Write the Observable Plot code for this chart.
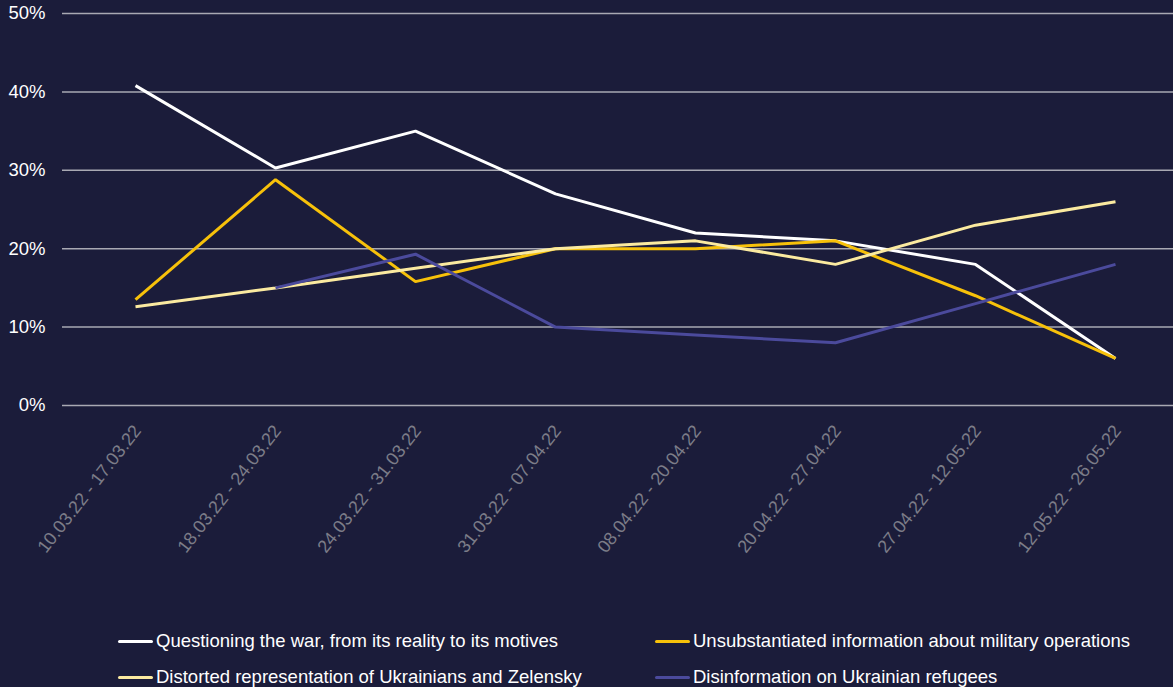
<!DOCTYPE html>
<html>
<head>
<meta charset="utf-8">
<script src="https://cdn.jsdelivr.net/npm/d3@7"></script>
<script src="https://cdn.jsdelivr.net/npm/@observablehq/plot@0.6"></script>
<style>
  html, body { margin: 0; padding: 0; background: #1b1c3a; }
  body { width: 1173px; height: 687px; overflow: hidden; font-family: "Liberation Sans", Arial, sans-serif; }
  #legend { position: relative; width: 1173px; height: 75px; }
  .item { position: absolute; display: flex; align-items: center; height: 22px; line-height: 22px; color: #ffffff; font-size: 18.5px; white-space: nowrap; }
  .sw { width: 35px; height: 3px; margin-right: 3px; border-radius: 1.5px; }
</style>
</head>
<body>
<div id="chart"></div>
<div id="legend"></div>
<script>
const periods = ["10.03.22 - 17.03.22","18.03.22 - 24.03.22","24.03.22 - 31.03.22","31.03.22 - 07.04.22","08.04.22 - 20.04.22","20.04.22 - 27.04.22","27.04.22 - 12.05.22","12.05.22 - 26.05.22"];
const seriesNames = ["Questioning the war, from its reality to its motives","Unsubstantiated information about military operations","Distorted representation of Ukrainians and Zelensky","Disinformation on Ukrainian refugees"];
const seriesColors = ["#ffffff","#f7c10a","#fbeaa0","#4b4a9c"];
const questioning = [40.8, 30.3, 35.0, 27.0, 22.0, 21.0, 18.0, 6.0];
const unsubstantiated = [13.5, 28.8, 15.8, 20.0, 20.0, 21.0, 14.0, 6.0];
const distorted = [12.6, 15.0, 17.5, 20.0, 21.0, 18.0, 23.0, 26.0];
const refugees = [null, 15.0, 19.3, 10.0, 9.0, 8.0, 13.0, 18.0];
const yTicks = [0, 10, 20, 30, 40, 50];

const allSeries = [questioning, unsubstantiated, distorted, refugees];
const data = [];
allSeries.forEach((vals, s) => vals.forEach((v, i) => {
  if (v !== null) data.push({series: seriesNames[s], period: periods[i], value: v});
}));

const chart = Plot.plot({
  width: 1173,
  height: 612,
  marginTop: 13,
  marginBottom: 207,
  marginLeft: 62,
  marginRight: 0,
  style: {background: "#1b1c3a", fontFamily: "Liberation Sans, Arial, sans-serif", overflow: "visible"},
  x: {type: "point", domain: periods, range: [133, 1117], padding: 0, label: null},
  y: {domain: [0, 50], label: null},
  color: {domain: seriesNames, range: seriesColors},
  marks: [
    Plot.ruleY(yTicks, {stroke: "#a9a9b3", strokeWidth: 1.5}),
    Plot.axisY(yTicks, {tickSize: 0, tickPadding: 17, tickFormat: d => d + "%", fill: "#ffffff", fontSize: 18.5, label: null}),
    Plot.axisX({tickSize: 0, tickPadding: 22, tickRotate: -52, dx: 2, fill: "#7c7c88", fontSize: 18, label: null}),
    Plot.line(data, {x: "period", y: "value", z: "series", stroke: "series", strokeWidth: 3, strokeLinejoin: "miter", strokeLinecap: "butt"})
  ]
});
document.getElementById("chart").appendChild(chart);

const legend = document.getElementById("legend");
const pos = [[118, 18], [655, 18], [118, 54], [655, 54]];
seriesNames.forEach((name, i) => {
  const it = document.createElement("div");
  it.className = "item";
  it.style.left = pos[i][0] + "px";
  it.style.top = pos[i][1] + "px";
  const sw = document.createElement("span");
  sw.className = "sw";
  sw.style.background = seriesColors[i];
  const t = document.createElement("span");
  t.textContent = name;
  it.appendChild(sw); it.appendChild(t);
  legend.appendChild(it);
});
</script>
</body>
</html>
